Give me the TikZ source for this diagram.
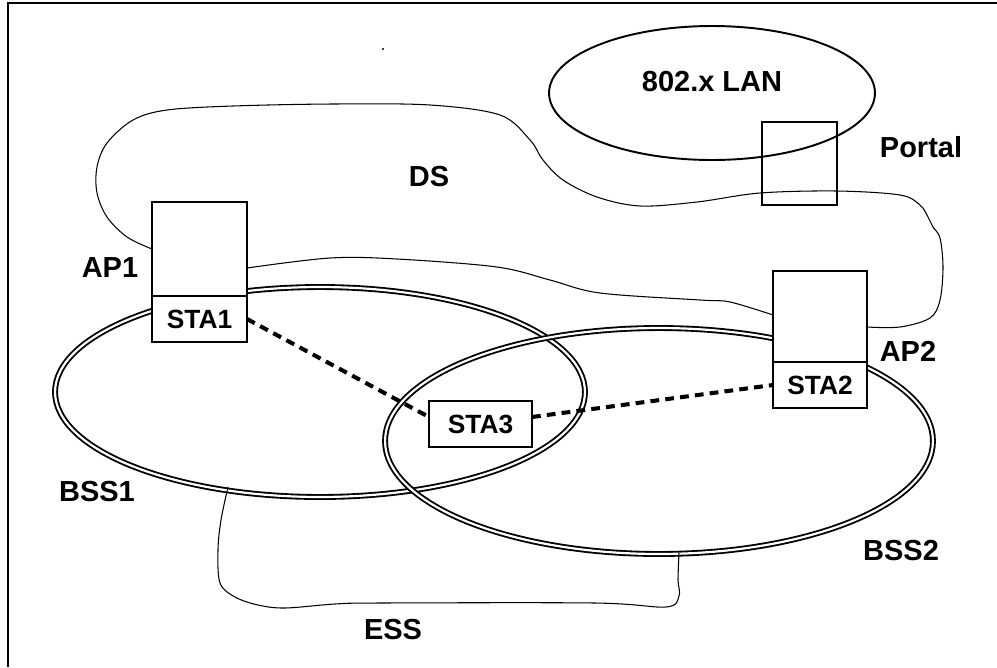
\documentclass[tikz,border=0pt]{standalone}
\usepackage{fontspec}
\setmainfont{Liberation Sans}
\usetikzlibrary{positioning, calc}
\tikzstyle{tag} = [font=\fontsize{16.5}{18}\selectfont\bfseries, inner sep=0pt]
\tikzstyle{apbox} = [draw=black, fill=white, line width=0.85pt, minimum width=1.9cm, minimum height=1.88cm, inner sep=0pt, outer sep=0pt]
\tikzstyle{stabox} = [draw=black, fill=white, line width=0.85pt, minimum width=1.9cm, minimum height=0.92cm, inner sep=0pt, outer sep=0pt, font=\fontsize{15}{17}\selectfont\bfseries]
\tikzstyle{cell} = [draw=black, double=white, line width=1.05pt, double distance=1.25pt]
\tikzstyle{cloud} = [line width=0.6pt, smooth, tension=0.55]
\tikzstyle{link} = [line width=2.3pt, dash pattern=on 5pt off 3.5pt]

\begin{document}
\begin{tikzpicture}[x=0.02cm, y=-0.02cm] % 1 unit = 1 pixel of the sketch
\useasboundingbox (0,0) rectangle (997,667);

% frame and the stray dot
\draw [line width=1.2pt] (8,667) -- (8,3) -- (997,3);
\fill (383,49) circle [radius=0.6pt];

% wired side
\draw [line width=1.1pt] (712,93) ellipse [x radius=3.26cm, y radius=1.34cm];
\node (lan) [tag] at (712,82) {802.x LAN};
\node (portal) [draw, line width=0.85pt, minimum width=1.5cm, minimum height=1.66cm, outer sep=0pt] at (799.5,163.5) {};
\node (portaltag) [tag] at (921,147) {Portal};

% cells
\draw [cell] (320,392) ellipse [x radius=5.3cm, y radius=2.1cm];
\draw [cell] (659,441) ellipse [x radius=5.48cm, y radius=2.26cm];

% DS and ESS outlines
\draw [cloud] plot coordinates {(152,249) (127,237) (107,217) (97,193) (97,167) (107,143) (133,120) (167,110) (233,106) (333,104) (430,105) (500,115) (530,140) (543,160) (563,180) (597,197) (640,206) (697,202) (760,193) (837,191) (900,195) (920,205) (928,217) (933,227) (940,238) (943,267) (940,300) (930,318) (900,327) (867,327)};
\draw [cloud] plot coordinates {(773,315) (730,302) (700,300) (600,293) (550,280) (497,267) (397,259) (330,258) (247,268)};
\draw [cloud] plot coordinates {(228,487) (221,520) (218,550) (220,583) (235,597) (258,605) (285,608) (335,604) (380,603) (595,603) (666,607) (679,596) (678,580) (679,553)};

% access points
\node (ap1) [apbox] at (199.5,249) {};
\node (sta1) [stabox, below=0pt of ap1] {STA1};
\node (ap2) [apbox, minimum width=1.88cm, minimum height=1.82cm] at (820,316.5) {};
\node (sta2) [stabox, minimum width=1.88cm, below=0pt of ap2] {STA2};
\node (sta3) [stabox, minimum width=2.06cm] at (480.5,424) {STA3};

% wireless links
\draw [link] (sta1.east) -- ($(sta3.west)+(0,-7)$);
\draw [link] ($(sta3.east)+(0,-7)$) -- (sta2.west);

% labels
\node (ds) [tag] at (429,177) {DS};
\node (ap1tag) [tag] at (110,268) {AP1};
\node (ap2tag) [tag] at (908,351) {AP2};
\node (bss1) [tag] at (97,492) {BSS1};
\node (bss2) [tag] at (901,551) {BSS2};
\node (ess) [tag] at (393,630) {ESS};
\end{tikzpicture}
\end{document}
